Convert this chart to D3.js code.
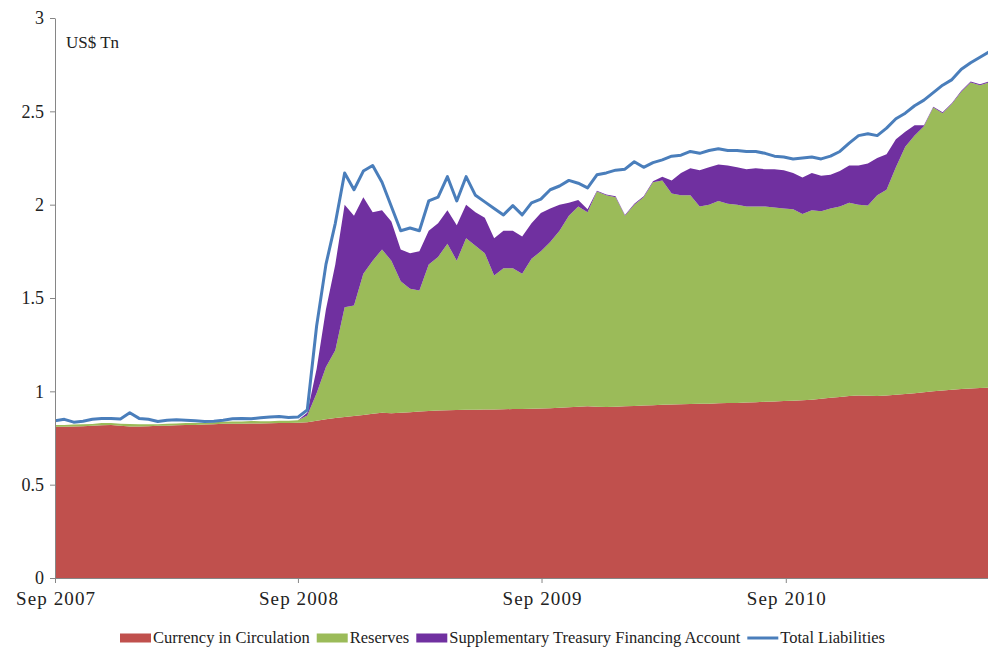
<!DOCTYPE html>
<html>
<head>
    <meta charset="utf-8">
    <script src="https://cdn.jsdelivr.net/npm/d3@7/dist/d3.min.js"></script>
    <style>
        body { margin: 0; background: #fff; }
        svg text { font-family: "Times New Roman", "Liberation Serif", "DejaVu Serif", serif; fill: #222; }
    </style>
</head>

<body>

<div id="graph"></div>

<script>

// fortnightly observations starting from the first week of Sep 2007 (US$ Tn)
const startDate = new Date(2007, 8, 5);
const stepDays = 14;

const currency = [
  0.810,0.810,0.812,0.813,0.815,0.818,0.820,0.815,0.812,0.812,
  0.813,0.815,0.816,0.818,0.819,0.820,0.822,0.824,0.826,0.826,
  0.827,0.828,0.828,0.829,0.830,0.830,0.832,0.835,0.842,0.850,
  0.857,0.862,0.868,0.873,0.880,0.885,0.883,0.885,0.888,0.892,
  0.895,0.897,0.898,0.900,0.901,0.902,0.903,0.903,0.904,0.905,
  0.906,0.907,0.908,0.910,0.912,0.915,0.918,0.920,0.918,0.916,
  0.918,0.920,0.922,0.924,0.926,0.928,0.930,0.931,0.932,0.933,
  0.934,0.936,0.937,0.938,0.940,0.942,0.944,0.946,0.948,0.950,
  0.952,0.955,0.960,0.965,0.970,0.975,0.978,0.976,0.975,0.978,
  0.982,0.986,0.990,0.995,1.000,1.004,1.008,1.012,1.015,1.018,
  1.020
];

const reserves = [
  0.010,0.009,0.010,0.011,0.010,0.012,0.010,0.011,0.013,0.011,
  0.010,0.009,0.010,0.010,0.011,0.010,0.009,0.010,0.011,0.012,
  0.012,0.013,0.012,0.011,0.012,0.012,0.013,0.035,0.148,0.280,
  0.363,0.588,0.592,0.757,0.820,0.875,0.817,0.705,0.662,0.648,
  0.785,0.823,0.892,0.800,0.919,0.878,0.837,0.717,0.756,0.755,
  0.724,0.803,0.842,0.890,0.948,1.025,1.072,1.040,1.152,1.134,
  1.122,1.020,1.078,1.116,1.194,1.202,1.130,1.119,1.118,1.057,
  1.066,1.084,1.068,1.062,1.050,1.048,1.046,1.039,1.032,1.025,
  0.998,1.015,1.005,1.015,1.020,1.035,1.022,1.019,1.075,1.102,
  1.218,1.324,1.380,1.425,1.520,1.486,1.532,1.593,1.640,1.622,
  1.635
];

const stfa = [
  0,0,0,0,0,0,0,0,0,0,
  0,0,0,0,0,0,0,0,0,0,
  0,0,0,0,0,0,0,0.015,0.130,0.310,
  0.460,0.550,0.480,0.410,0.260,0.210,0.210,0.170,0.190,0.210,
  0.180,0.180,0.180,0.190,0.180,0.180,0.190,0.200,0.200,0.200,
  0.200,0.190,0.205,0.180,0.140,0.070,0.035,0.015,0.005,0.005,
  0.005,0.005,0.005,0.005,0.005,0.020,0.070,0.120,0.145,0.195,
  0.200,0.195,0.205,0.200,0.200,0.205,0.200,0.205,0.205,0.195,
  0.195,0.200,0.190,0.180,0.190,0.200,0.210,0.225,0.200,0.190,
  0.150,0.080,0.055,0.005,0.005,0.005,0.005,0.005,0.005,0.005,
  0.005
];

const total = [
  0.843,0.850,0.835,0.840,0.850,0.855,0.855,0.852,0.885,0.855,
  0.850,0.838,0.845,0.848,0.845,0.843,0.838,0.840,0.845,0.853,
  0.855,0.853,0.858,0.862,0.865,0.860,0.862,0.900,1.350,1.680,
  1.900,2.170,2.080,2.180,2.210,2.120,1.990,1.860,1.875,1.860,
  2.020,2.040,2.150,2.020,2.150,2.050,2.015,1.980,1.945,1.995,
  1.945,2.010,2.030,2.080,2.100,2.130,2.115,2.090,2.160,2.170,
  2.185,2.190,2.230,2.200,2.225,2.240,2.260,2.265,2.285,2.275,
  2.290,2.300,2.290,2.290,2.285,2.285,2.275,2.260,2.255,2.245,
  2.250,2.255,2.245,2.260,2.285,2.330,2.370,2.380,2.370,2.410,
  2.460,2.490,2.530,2.560,2.600,2.640,2.670,2.725,2.760,2.790,
  2.820
];

const seriesKeys = ["currency", "reserves", "stfa"];
const seriesNames = ["Currency in Circulation", "Reserves", "Supplementary Treasury Financing Account", "Total Liabilities"];
const seriesColors = ["#c0504d", "#9bbb59", "#7030a0", "#4a7ebb"];

const xTickDates = [new Date(2007, 8, 5), new Date(2008, 8, 3), new Date(2009, 8, 3), new Date(2010, 8, 4)];
const yTicks = [0, 0.5, 1, 1.5, 2, 2.5, 3];
const unitLabel = "US$ Tn";

const serif = "'Times New Roman', 'Liberation Serif', 'DejaVu Serif', serif";

// chart box
const W = 988, H = 651;
const margin = {top: 18, right: 0, bottom: 73, left: 55};
const width = W - margin.left - margin.right,
    height = H - margin.top - margin.bottom;

const svg = d3.select("#graph")
  .append("svg")
    .attr("width", W)
    .attr("height", H)
  .append("g")
    .attr("transform", `translate(${margin.left},${margin.top})`);

// rows for the stack
let rows = [];
for (let i = 0; i < currency.length; i++) {
    rows.push({
        date: d3.timeDay.offset(startDate, stepDays * i),
        currency: currency[i],
        reserves: reserves[i],
        stfa: stfa[i],
        total: total[i]
    });
}

const x = d3.scaleTime()
  .domain([startDate, d3.timeDay.offset(startDate, 1398)])
  .range([0, width]);

const y = d3.scaleLinear()
  .domain([0, 3])
  .range([height, 0]);

svg.append("clipPath")
    .attr("id", "plotclip")
  .append("rect")
    .attr("width", width)
    .attr("height", height);

const stacked = d3.stack().keys(seriesKeys)(rows);

const plot = svg.append("g").attr("clip-path", "url(#plotclip)");

plot.selectAll(".layer")
  .data(stacked)
  .join("path")
    .attr("class", "layer")
    .attr("fill", (d, i) => seriesColors[i])
    .attr("d", d3.area()
        .x(d => x(d.data.date))
        .y0(d => y(d[0]))
        .y1(d => y(d[1]))
    );

// total liabilities line
plot.append("path")
  .datum(rows)
    .attr("fill", "none")
    .attr("stroke", seriesColors[3])
    .attr("stroke-width", 3)
    .attr("stroke-linejoin", "round")
    .attr("d", d3.line()
        .x(d => x(d.date))
        .y(d => y(d.total))
    );

// Y axis
const yAxis = svg.append("g")
  .call(d3.axisLeft(y)
      .tickValues(yTicks)
      .tickSize(5)
      .tickSizeOuter(0)
      .tickPadding(6)
      .tickFormat(d3.format("~g")));
yAxis.attr("font-family", null);
yAxis.select(".domain").attr("stroke", "#868686");
yAxis.selectAll(".tick line").attr("stroke", "#868686");
yAxis.selectAll("text")
    .style("font-size", "18px")
    .style("font-family", serif)
    .attr("fill", "#222");

// X axis
const xAxis = svg.append("g")
  .attr("transform", `translate(0, ${height})`)
  .call(d3.axisBottom(x)
      .tickValues(xTickDates)
      .tickSize(5)
      .tickSizeOuter(0)
      .tickPadding(9)
      .tickFormat(d3.timeFormat("%b %Y")));
xAxis.attr("font-family", null);
xAxis.select(".domain").attr("stroke", "#868686");
xAxis.selectAll(".tick line").attr("stroke", "#868686");
xAxis.selectAll("text")
    .style("font-size", "19px")
    .style("font-family", serif)
    .attr("textLength", 79)
    .attr("lengthAdjust", "spacing")
    .attr("fill", "#222");

// unit label
svg.append("text")
    .attr("x", 11)
    .attr("y", 30)
    .style("font-size", "17px")
    .style("font-family", serif)
    .text(unitLabel);

// legend
const legend = d3.select("svg").append("g")
    .attr("transform", "translate(120, 638)");
let lx = 0;
seriesNames.forEach((name, i) => {
    const item = legend.append("g").attr("transform", `translate(${lx}, 0)`);
    if (i < 3) {
        item.append("rect")
            .attr("x", 0).attr("y", -4.5)
            .attr("width", 31).attr("height", 9)
            .attr("fill", seriesColors[i]);
    } else {
        item.append("line")
            .attr("x1", 0).attr("x2", 31)
            .attr("y1", 0).attr("y2", 0)
            .attr("stroke", seriesColors[i])
            .attr("stroke-width", 3);
    }
    const t = item.append("text")
        .attr("x", 33)
        .attr("y", 5)
        .style("font-size", "16.5px")
        .style("font-family", serif)
        .text(name);
    lx += 33 + t.node().getComputedTextLength() + 7;
});

</script>

</body>
</html>
